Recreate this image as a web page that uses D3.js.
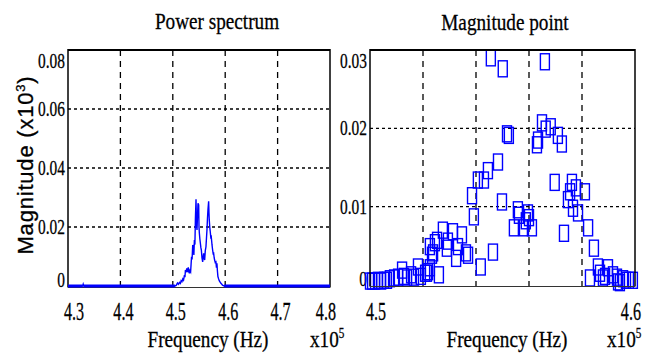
<!DOCTYPE html>
<html>
<head>
<meta charset="utf-8">
<script src="https://cdn.jsdelivr.net/npm/d3@7"></script>
<style>
  body { margin: 0; background: #fff; }
  text { fill: #000; stroke: #000; stroke-width: 0.3px; }
</style>
</head>
<body>
<svg id="chart" width="655" height="360"></svg>
<script>
// ---- data (frequency in x10^5 Hz) ----
const specFreq = [4.3000, 4.3280, 4.3290, 4.3300, 4.5040, 4.5064, 4.5090, 4.5110, 4.5127, 4.5145,
  4.5159, 4.5175, 4.5190, 4.5205, 4.5222, 4.5232, 4.5241, 4.5252, 4.5266, 4.5276,
  4.5285, 4.5295, 4.5304, 4.5316, 4.5329, 4.5340, 4.5349, 4.5358, 4.5368, 4.5380,
  4.5393, 4.5402, 4.5412, 4.5422, 4.5431, 4.5443, 4.5452, 4.5462, 4.5472, 4.5481,
  4.5494, 4.5500, 4.5507, 4.5516, 4.5526, 4.5536, 4.5545, 4.5557, 4.5570, 4.5580,
  4.5589, 4.5598, 4.5608, 4.5620, 4.5633, 4.5642, 4.5652, 4.5662, 4.5671, 4.5684,
  4.5690, 4.5696, 4.5705, 4.5715, 4.5725, 4.5734, 4.5748, 4.5760, 4.5770, 4.5779,
  4.5790, 4.5798, 4.5810, 4.5823, 4.5833, 4.5842, 4.5852, 4.5861, 4.5873, 4.5886,
  4.5900, 4.5918, 4.5935, 4.5949, 4.5981, 4.8000];
const specMag = [0, 0, 0.0006, 0, 0, 0.0002, 0.0010, 0.0006, 0.0012, 0.0009,
  0.0018, 0.0015, 0.0024, 0.0020, 0.0037, 0.0030, 0.0054, 0.0046, 0.0060, 0.0050,
  0.0049, 0.0063, 0.0056, 0.0043, 0.0052, 0.0048, 0.0074, 0.0099, 0.0090, 0.0139,
  0.0128, 0.0105, 0.0156, 0.0140, 0.0225, 0.0294, 0.0210, 0.0190, 0.0240, 0.0280,
  0.0275, 0.0200, 0.0179, 0.0160, 0.0145, 0.0130, 0.0122, 0.0095, 0.0082, 0.0100,
  0.0111, 0.0095, 0.0088, 0.0120, 0.0133, 0.0160, 0.0190, 0.0230, 0.0258, 0.0287,
  0.0250, 0.0224, 0.0200, 0.0184, 0.0165, 0.0167, 0.0140, 0.0122, 0.0110, 0.0111,
  0.0095, 0.0088, 0.0080, 0.0082, 0.0062, 0.0077, 0.0050, 0.0032, 0.0025, 0.0018,
  0.0014, 0.0009, 0.0006, 0.0003, 0, 0];

const pointFreq = [4.5000, 4.5008, 4.5019, 4.5030, 4.5042, 4.5053, 4.5064, 4.5075, 4.5091, 4.5106,
  4.5121, 4.5128, 4.5140, 4.5155, 4.5166, 4.5181, 4.5192, 4.5208, 4.5219, 4.5226,
  4.5234, 4.5226, 4.5245, 4.5215, 4.5253, 4.5275, 4.5294, 4.5290, 4.5313, 4.5325,
  4.5332, 4.5347, 4.5362, 4.5370, 4.5260, 4.5238, 4.5385, 4.5392, 4.5407, 4.5418,
  4.5430, 4.5445, 4.5456, 4.5464, 4.5483, 4.5498, 4.5501, 4.5517, 4.5524, 4.5543,
  4.5558, 4.5562, 4.5581, 4.5588, 4.5596, 4.5600, 4.5611, 4.5660, 4.5630, 4.5634,
  4.5649, 4.5663, 4.5682, 4.5709, 4.5724, 4.5697, 4.5732, 4.5747, 4.5755, 4.5762,
  4.5766, 4.5777, 4.5785, 4.5811, 4.5823, 4.5845, 4.5860, 4.5830, 4.5868, 4.5879,
  4.5887, 4.5898, 4.5917, 4.5932, 4.5936, 4.5943, 4.5955, 4.5966, 4.5977, 4.5992];
const pointMag = [0.0005, 0.0005, 0.0005, 0.0006, 0.0005, 0.0006, 0.0006, 0.0008, 0.0009, 0.0010,
  0.0019, 0.0011, 0.0009, 0.0013, 0.0010, 0.0023, 0.0011, 0.0015, 0.0017, 0.0022,
  0.0038, 0.0049, 0.0054, 0.0015, 0.0057, 0.0070, 0.0056, 0.0047, 0.0068, 0.0034,
  0.0049, 0.0064, 0.0041, 0.0038, 0.0013, 0.0041, 0.0114, 0.0087, 0.0134, 0.0023,
  0.0134, 0.0146, 0.0290, 0.0042, 0.0157, 0.0106, 0.0276, 0.0193, 0.0191, 0.0073,
  0.0096, 0.0089, 0.0073, 0.0082, 0.0092, 0.0086, 0.0073, 0.0285, 0.0179, 0.0185,
  0.0207, 0.0199, 0.0202, 0.0191, 0.0180, 0.0131, 0.0066, 0.0109, 0.0119, 0.0131,
  0.0098, 0.0124, 0.0092, 0.0119, 0.0073, 0.0047, 0.0023, 0.0009, 0.0015, 0.0009,
  0.0011, 0.0022, 0.0013, 0.0010, 0.0004, 0.0003, 0.0008, 0.0006, 0.0006, 0.0006];

const leftXTicks = [4.3, 4.4, 4.5, 4.6, 4.7, 4.8];
const leftYTicks = [0, 0.02, 0.04, 0.06, 0.08];
const rightXTicks = [4.5, 4.6];
const rightXGrid = [4.52, 4.54, 4.56, 4.58];
const rightYTicks = [0, 0.01, 0.02, 0.03];

const BLUE = '#0000ff';
const SERIF = '"Liberation Serif", "Times New Roman", serif';
const SANS = '"Liberation Sans", Arial, sans-serif';

const svg = d3.select('#chart');

// condensed serif text, like the squeezed figure
function label(g, x, y, str, size, sx, anchor) {
  return g.append('text')
    .attr('transform', `translate(${x},${y}) scale(${sx},1)`)
    .attr('text-anchor', anchor || 'middle')
    .style('font-family', SERIF)
    .style('font-size', size + 'px')
    .text(str);
}

function frame(g, xs, ys, xTicks, yTicks, xGrid, yGrid, fmtY) {
  const [x0, x1] = xs.range();
  const yb = ys(0), yt = ys.range()[1];

  // grid
  g.selectAll('.vgrid').data(xGrid).enter().append('line')
    .attr('x1', d => xs(d)).attr('x2', d => xs(d))
    .attr('y1', yt).attr('y2', yb + 1)
    .attr('stroke', '#000').attr('stroke-width', 1.3)
    .attr('stroke-dasharray', '6,5');
  g.selectAll('.hgrid').data(yGrid).enter().append('line')
    .attr('x1', x0).attr('x2', x1)
    .attr('y1', d => ys(d)).attr('y2', d => ys(d))
    .attr('stroke', '#000').attr('stroke-width', 1.3)
    .attr('stroke-dasharray', '3,3');

  // y tick labels
  yTicks.forEach((t, i) => {
    let yy = ys(t);
    if (i === yTicks.length - 1) yy += 11;
    if (i === 0) yy -= 6;
    label(g, x0 - 3, yy + 7, fmtY(t), 22, 0.7, 'end');
  });

  // x tick labels
  xTicks.forEach((t, i) => {
    let anchor = 'middle', xx = xs(t) + 3;
    if (i === 0) { anchor = 'start'; xx = xs(t) - 4; }
    if (i === xTicks.length - 1) { anchor = 'end'; xx = xs(t) + 6; }
    label(g, xx, 320, t.toFixed(1), 26, 0.62, anchor);
  });
}

function border(g, xs, ys) {
  const [x0, x1] = xs.range();
  const yb = ys(0) + 1.5, yt = ys.range()[1];
  g.append('line').attr('x1', x0).attr('x2', x1).attr('y1', yt).attr('y2', yt)
    .attr('stroke', '#000').attr('stroke-width', 2);
  g.append('line').attr('x1', x0).attr('x2', x0).attr('y1', yt - 1).attr('y2', yb)
    .attr('stroke', '#000').attr('stroke-width', 1.5);
  g.append('line').attr('x1', x1).attr('x2', x1).attr('y1', yt - 1).attr('y2', yb)
    .attr('stroke', '#000').attr('stroke-width', 1.5);
  g.append('line').attr('x1', x0).attr('x2', x1).attr('y1', yb).attr('y2', yb)
    .attr('stroke', '#333').attr('stroke-width', 1.2);
}

function xLabel(g, cx, exX) {
  label(g, cx, 347, 'Frequency (Hz)', 24, 0.8, 'middle');
  const t = g.append('text')
    .attr('transform', `translate(${exX},347) scale(0.8,1)`)
    .style('font-family', SERIF).style('font-size', '24px');
  t.append('tspan').text('x10');
  t.append('tspan').attr('dy', -9).style('font-size', '14px').text('5');
}

// ---- left: power spectrum ----
const xL = d3.scaleLinear().domain([4.3, 4.8]).range([68, 330]);
const yL = d3.scaleLinear().domain([0, 0.08]).range([286, 50]);
const gL = svg.append('g');

frame(gL, xL, yL, leftXTicks, leftYTicks, [4.4, 4.5, 4.6, 4.7], [0.02, 0.04, 0.06],
  d => d === 0 ? '0' : d.toFixed(2));
border(gL, xL, yL);

const spec = specFreq.map((f, i) => ({ f, m: specMag[i] }));
// flat part of the spectrum is drawn heavy, as in the figure
gL.append('path')
  .datum(spec)
  .attr('fill', 'none').attr('stroke', BLUE).attr('stroke-width', 3)
  .attr('d', d3.line().defined(d => d.m === 0).x(d => xL(d.f)).y(d => yL(d.m)));
gL.append('path')
  .datum(spec)
  .attr('fill', 'none').attr('stroke', BLUE).attr('stroke-width', 1.4)
  .attr('stroke-linejoin', 'miter')
  .attr('d', d3.line().x(d => xL(d.f)).y(d => yL(d.m)));

label(gL, 217, 29, 'Power spectrum', 24, 0.8, 'middle');
xLabel(gL, 208, 310);

// y axis title
const yt = svg.append('text')
  .attr('transform', 'translate(33,165) rotate(-90)')
  .attr('text-anchor', 'middle')
  .style('font-family', SANS).style('font-size', '22px')
  .style('letter-spacing', '0.8px');
yt.append('tspan').text('Magnitude (x10');
yt.append('tspan').attr('dy', -8).style('font-size', '13px').text('3');
yt.append('tspan').attr('dy', 8).text(')');

// ---- right: magnitude point ----
const xR = d3.scaleLinear().domain([4.5, 4.6]).range([370, 635]);
const yR = d3.scaleLinear().domain([0, 0.03]).range([285, 50]);
const gR = svg.append('g');

frame(gR, xR, yR, rightXTicks, rightYTicks, rightXGrid, [0.01, 0.02],
  d => d === 0 ? '0' : d.toFixed(2));

const pts = pointFreq.map((f, i) => ({ f, m: pointMag[i] }));
const mw = 9, mh = 16;
gR.selectAll('rect.pt').data(pts).enter().append('rect')
  .attr('class', 'pt')
  .attr('x', d => xR(d.f) - mw / 2)
  .attr('y', d => yR(d.m) - mh / 2)
  .attr('width', mw).attr('height', mh)
  .attr('fill', 'none').attr('stroke', BLUE).attr('stroke-width', 1.4);

border(gR, xR, yR);

label(gR, 505, 30, 'Magnitude point', 24, 0.8, 'middle');
xLabel(gR, 507, 607);
</script>
</body>
</html>
